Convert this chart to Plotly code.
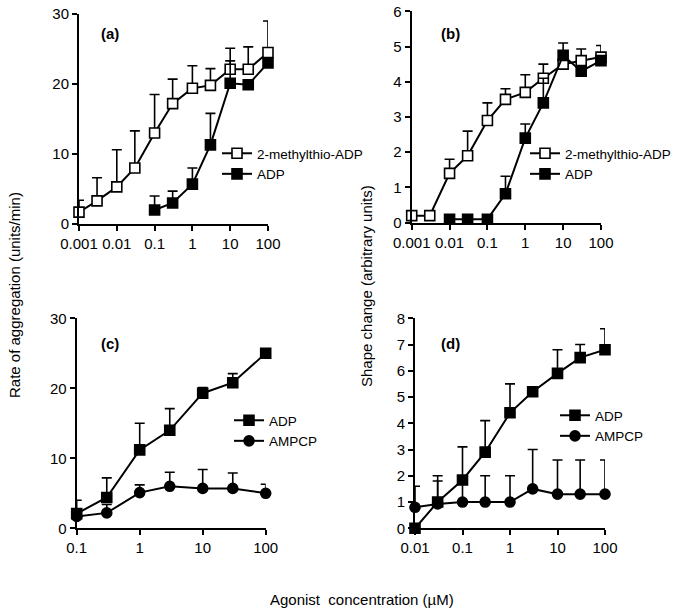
import plotly.graph_objects as go

W, H = 681, 613

# ---------------- data ----------------
# panel (a) rate of aggregation
a_x_mes = [0.001, 0.003, 0.01, 0.03, 0.1, 0.3, 1, 3, 10, 30, 100]
a_y_mes = [1.7, 3.3, 5.3, 8.0, 13.0, 17.2, 19.4, 19.8, 22.1, 22.1, 24.5]
a_e_mes = [1.7, 3.3, 5.3, 5.3, 5.5, 3.5, 3.2, 2.4, 3.0, 3.2, 4.5]
a_x_adp = [0.1, 0.3, 1, 3, 10, 30, 100]
a_y_adp = [2.0, 3.0, 5.7, 11.3, 20.1, 19.9, 23.0]
a_e_adp = [2.0, 1.7, 2.3, 4.5, 3.2, 0.5, 0.5]

# panel (b) shape change
b_x_mes = [0.001, 0.003, 0.01, 0.03, 0.1, 0.3, 1, 3, 10, 30, 100]
b_y_mes = [0.2, 0.2, 1.4, 1.9, 2.9, 3.5, 3.7, 4.1, 4.5, 4.6, 4.7]
b_e_mes = [0.05, 0.05, 0.4, 0.7, 0.5, 0.3, 0.5, 0.4, 0.1, 0.33, 0.33]
b_x_adp = [0.01, 0.03, 0.1, 0.3, 1, 3, 10, 30, 100]
b_y_adp = [0.1, 0.1, 0.1, 0.82, 2.4, 3.4, 4.75, 4.3, 4.6]
b_e_adp = [0.02, 0.02, 0.02, 0.5, 0.4, 0.7, 0.35, 0.05, 0.05]

# panel (c) rate of aggregation, ADP vs AMPCP
c_x = [0.1, 0.3, 1, 3, 10, 30, 100]
c_y_adp = [2.1, 4.4, 11.2, 14.0, 19.3, 20.8, 25.0]
c_e_adp = [1.9, 2.8, 3.8, 3.1, 0.8, 1.3, 0.0]
c_y_amp = [1.7, 2.2, 5.1, 6.0, 5.7, 5.7, 5.0]
c_e_amp = [0.3, 1.2, 1.1, 2.0, 2.7, 2.2, 1.3]

# panel (d) shape change, ADP vs AMPCP
d_x = [0.01, 0.03, 0.1, 0.3, 1, 3, 10, 30, 100]
d_y_adp = [0.0, 1.0, 1.84, 2.9, 4.4, 5.2, 5.9, 6.5, 6.8]
d_e_adp = [0.0, 0.8, 1.26, 1.2, 1.1, 0.1, 0.9, 0.5, 0.8]
d_y_amp = [0.8, 0.93, 1.0, 1.0, 1.0, 1.5, 1.3, 1.3, 1.3]
d_e_amp = [0.8, 1.07, 1.0, 1.0, 1.0, 1.5, 1.3, 1.3, 1.3]

log_tickvals = [0.001, 0.01, 0.1, 1, 10, 100]
log_ticktext = ["0.001", "0.01", "0.1", "1", "10", "100"]

FONT = "Liberation Sans, Arial, sans-serif"


def err(arr):
    return dict(type="data", symmetric=False, array=arr, arrayminus=[0] * len(arr),
                color="black", thickness=1.6, width=5, visible=True)


def trace(x, y, e, name, sym, fill, xa, ya, legend):
    return go.Scatter(
        x=x, y=y, name=name, mode="lines+markers",
        xaxis=xa, yaxis=ya, legend=legend, cliponaxis=False,
        line=dict(color="black", width=2),
        marker=dict(symbol=sym, size=10, color=fill, line=dict(color="black", width=1.6)),
        error_y=err(e),
    )


fig = go.Figure()
fig.add_trace(trace(a_x_mes, a_y_mes, a_e_mes, "2-methylthio-ADP", "square", "white", "x", "y", "legend"))
fig.add_trace(trace(a_x_adp, a_y_adp, a_e_adp, "ADP", "square", "black", "x", "y", "legend"))
fig.add_trace(trace(b_x_mes, b_y_mes, b_e_mes, "2-methylthio-ADP", "square", "white", "x2", "y2", "legend2"))
fig.add_trace(trace(b_x_adp, b_y_adp, b_e_adp, "ADP", "square", "black", "x2", "y2", "legend2"))
fig.add_trace(trace(c_x, c_y_adp, c_e_adp, "ADP", "square", "black", "x3", "y3", "legend3"))
fig.add_trace(trace(c_x, c_y_amp, c_e_amp, "AMPCP", "circle", "black", "x3", "y3", "legend3"))
fig.add_trace(trace(d_x, d_y_adp, d_e_adp, "ADP", "square", "black", "x4", "y4", "legend4"))
fig.add_trace(trace(d_x, d_y_amp, d_e_amp, "AMPCP", "circle", "black", "x4", "y4", "legend4"))


# helpers converting page pixel positions into paper fractions
def px(x):
    return x / W


def py(y):
    return 1 - y / H


def xd(l, r):
    return [px(l), px(r)]


def yd(top, bottom):
    return [py(bottom), py(top)]


axis_style = dict(showline=True, linecolor="black", linewidth=2, ticks="outside",
                  ticklen=5, tickwidth=2, tickcolor="black", showgrid=False,
                  zeroline=False, automargin=False, ticklabeloverflow="allow",
                  tickfont=dict(family=FONT, size=15, color="black"))


def xaxis(dom, rng, anchor, vals, texts):
    return dict(domain=dom, type="log", range=rng, anchor=anchor,
                tickmode="array", tickvals=vals, ticktext=texts, **axis_style)


def yaxis(dom, rng, anchor, dtick):
    return dict(domain=dom, range=rng, anchor=anchor, dtick=dtick, tick0=0, **axis_style)


def legend(xp, yp):
    return dict(x=px(xp), y=py(yp), xanchor="left", yanchor="top",
                bgcolor="rgba(0,0,0,0)", borderwidth=0,
                font=dict(family=FONT, size=13.5, color="black"), itemclick=False)


fig.update_layout(
    width=W, height=H, margin=dict(l=0, r=0, t=0, b=0, autoexpand=False),
    paper_bgcolor="white", plot_bgcolor="white",
    showlegend=True,
    xaxis=xaxis(xd(79, 268), [-3, 2], "y", log_tickvals, log_ticktext),
    yaxis=yaxis(yd(14, 224), [0, 30], "x", 10),
    xaxis2=xaxis(xd(411.7, 601), [-3, 2], "y2", log_tickvals, log_ticktext),
    yaxis2=yaxis(yd(11.3, 222.7), [0, 6], "x2", 1),
    xaxis3=xaxis(xd(76.7, 265.7), [-1, 2], "y3", log_tickvals[2:], log_ticktext[2:]),
    yaxis3=yaxis(yd(318.3, 528.3), [0, 30], "x3", 10),
    xaxis4=xaxis(xd(415, 605), [-2, 2], "y4", log_tickvals[1:], log_ticktext[1:]),
    yaxis4=yaxis(yd(318.3, 528.3), [0, 8], "x4", 1),
    legend=legend(217, 138),
    legend2=legend(525, 138),
    legend3=legend(229, 405),
    legend4=legend(555, 400),
)

annotations = [
    dict(text="<b>(a)</b>", x=px(110), y=py(33)),
    dict(text="<b>(b)</b>", x=px(450), y=py(33)),
    dict(text="<b>(c)</b>", x=px(110), y=py(343)),
    dict(text="<b>(d)</b>", x=px(450), y=py(343)),
]
for a in annotations:
    a.update(xref="paper", yref="paper", showarrow=False, xanchor="center", yanchor="middle",
             font=dict(family=FONT, size=15, color="black"))
    fig.add_annotation(**a)

fig.add_annotation(text="Rate of aggregation (units/min)", x=px(14), y=py(295),
                   xref="paper", yref="paper", showarrow=False, textangle=-90,
                   xanchor="center", yanchor="middle",
                   font=dict(family=FONT, size=15, color="black"))
fig.add_annotation(text="Shape change (arbitrary units)", x=px(366), y=py(286),
                   xref="paper", yref="paper", showarrow=False, textangle=-90,
                   xanchor="center", yanchor="middle",
                   font=dict(family=FONT, size=15, color="black"))
fig.add_annotation(text="Agonist  concentration (µM)", x=px(362), y=py(599),
                   xref="paper", yref="paper", showarrow=False,
                   xanchor="center", yanchor="middle",
                   font=dict(family=FONT, size=15, color="black"))

# remove the browser's default 8px body margin so the figure fills the window exactly
fig.write_html("out.html", config={"displayModeBar": False},
               post_script="document.body.style.margin='0px';")
